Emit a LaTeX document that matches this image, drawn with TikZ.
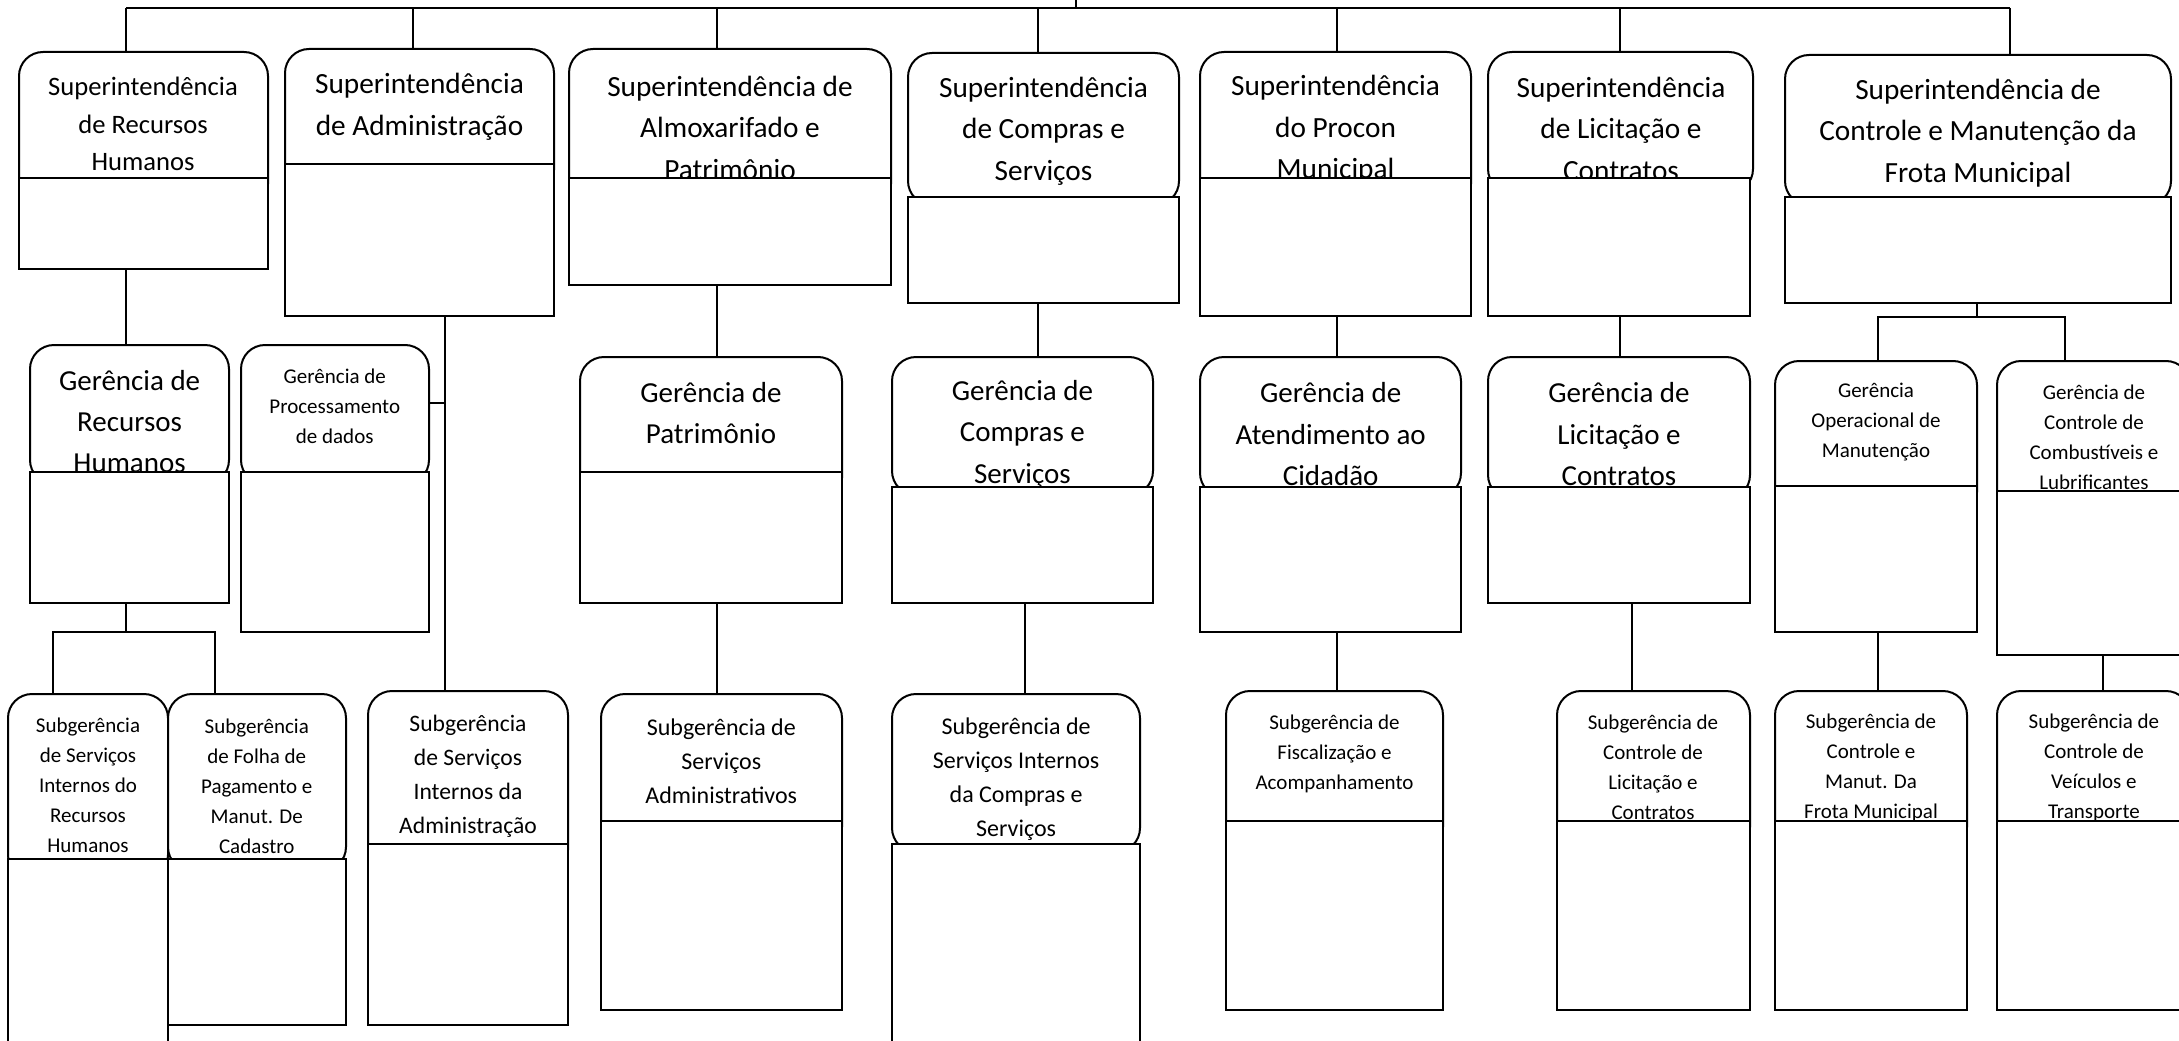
\documentclass[tikz,border=0pt]{standalone}
\usepackage{fontspec}
\setmainfont{Carlito}
\newcommand\fTop{\fontsize{29.3}{41.7}\selectfont}
\newcommand\fBone{\fontsize{26.6}{37.8}\selectfont}
\newcommand\fGer{\fontsize{29}{41.3}\selectfont}
\newcommand\fSm{\fontsize{21}{30}\selectfont}
\newcommand\fMid{\fontsize{23.6}{34.2}\selectfont}
\newcommand\fMidb{\fontsize{24}{34}\selectfont}
% name, left, top, right, bottom
\newcommand\orground[5]{\node[rbox, minimum width={(#4-#2)*1pt}, minimum height={(#5-#3)*1pt}] (#1) at ({(#2+#4)/2},{(#3+#5)/2}) {};}
\newcommand\orgrect[5]{\node[lbox, minimum width={(#4-#2)*1pt}, minimum height={(#5-#3)*1pt}] (#1) at ({(#2+#4)/2},{(#3+#5)/2}) {};}
\begin{document}
\begin{tikzpicture}[x=1pt,y=-1pt,
  rbox/.style={draw, line width=2pt, rounded corners=24pt, fill=white, inner sep=0pt, outer sep=0pt},
  lbox/.style={draw, line width=2pt, fill=white, inner sep=0pt, outer sep=0pt},
  txt/.style={align=center, inner sep=0pt, outer sep=0pt},
  conn/.style={line width=2pt}]
\useasboundingbox[fill=white] (0,0) rectangle (2179,1041);

% ---------- boxes, level 1 ----------
\orground{b1}{19}{52}{268}{208}
\node[txt, font=\fBone] (b1t) at (143,123.9) {Superintendência\\de Recursos\\Humanos};
\orgrect{b1r}{19}{178}{268}{269}

\orground{b2}{285}{49}{554}{194}
\node[txt, font=\fTop] (b2t) at (419.5,106.9) {Superintendência\\de Administração};
\orgrect{b2r}{285}{164}{554}{316}

\orground{b3}{569}{49}{891}{208}
\node[txt, font=\fTop] (b3t) at (730,127.7) {Superintendência de\\Almoxarifado e\\Patrimônio};
\orgrect{b3r}{569}{178}{891}{285}

\orground{b4}{908}{53}{1179}{205}
\node[txt, font=\fTop] (b4t) at (1043.5,131.2) {Superintendência\\de Compras e\\Serviços};
\orgrect{b4r}{908}{197}{1179}{303}

\orground{b5}{1200}{52}{1471}{208}
\node[txt, font=\fTop] (b5t) at (1335.5,129.2) {Superintendência\\do Procon\\Municipal};
\orgrect{b5r}{1200}{178}{1471}{316}

\orground{b6}{1488}{52}{1753}{193}
\node[txt, font=\fTop] (b6t) at (1621,128.7) {Superintendência\\de Licitação e\\Contratos};
\orgrect{b6r}{1488}{178}{1750}{316}

\orground{b7}{1785}{55}{2171}{205}
\node[txt, font=\fTop] (b7t) at (1978,133) {Superintendência de\\Controle e Manutenção da\\Frota Municipal};
\orgrect{b7r}{1785}{197}{2171}{303}

% ---------- boxes, level 2 ----------
\orground{g1}{30}{345}{229}{484}
\node[txt, font=\fGer] (g1t) at (129.6,421.7) {Gerência de\\Recursos\\Humanos};
\orgrect{g1r}{30}{472}{229}{603}

\orground{g2}{241}{345}{429}{484}
\node[txt, font=\fSm] (g2t) at (334.75,406) {Gerência de\\Processamento\\de dados};
\orgrect{g2r}{241}{472}{429}{632}

\orground{g3}{580}{357}{842}{502}
\node[txt, font=\fGer] (g3t) at (711,413.3) {Gerência de\\Patrimônio};
\orgrect{g3r}{580}{472}{842}{603}

\orground{g4}{892}{357}{1153}{495}
\node[txt, font=\fGer] (g4t) at (1022.4,434.2) {Gerência de\\Compras e\\Serviços};
\orgrect{g4r}{892}{487}{1153}{603}

\orground{g5}{1200}{357}{1461}{497}
\node[txt, font=\fGer] (g5t) at (1330.7,434.2) {Gerência de\\Atendimento ao\\Cidadão};
\orgrect{g5r}{1200}{487}{1461}{632}

\orground{g6}{1488}{357}{1750}{499}
\node[txt, font=\fGer] (g6t) at (1619,434.2) {Gerência de\\Licitação e\\Contratos};
\orgrect{g6r}{1488}{487}{1750}{603}

\orground{g7}{1775}{361}{1977}{516}
\node[txt, font=\fSm] (g7t) at (1876,421.7) {Gerência\\Operacional de\\Manutenção};
\orgrect{g7r}{1775}{486}{1977}{632}

\orground{g8}{1997}{361}{2190}{521}
\node[txt, font=\fSm] (g8t) at (2093.9,437.7) {Gerência de\\Controle de\\Combustíveis e\\Lubrificantes};
\orgrect{g8r}{1997}{491}{2190}{655}

% ---------- boxes, level 3 ----------
\orground{s1}{8}{694}{168}{879}
\node[txt, font=\fSm] (s1t) at (88,785.7) {Subgerência\\de Serviços\\Internos do\\Recursos\\Humanos};
\orgrect{s1r}{8}{859}{168}{1060}

\orground{s2}{168}{694}{346}{871}
\node[txt, font=\fSm] (s2t) at (256.75,786) {Subgerência\\de Folha de\\Pagamento e\\Manut. De\\Cadastro};
\orgrect{s2r}{168}{859}{346}{1025}

\orground{s3}{368}{691}{568}{874}
\node[txt, font=\fMid] (s3t) at (468,776.2) {Subgerência\\de Serviços\\Internos da\\Administração};
\orgrect{s3r}{368}{844}{568}{1025}

\orground{s4}{601}{694}{842}{851}
\node[txt, font=\fMidb] (s4t) at (721.3,761.7) {Subgerência de\\Serviços\\Administrativos};
\orgrect{s4r}{601}{821}{842}{1010}

\orground{s5}{892}{694}{1140}{852}
\node[txt, font=\fMidb] (s5t) at (1016.1,779.5) {Subgerência de\\Serviços Internos\\da Compras e\\Serviços};
\orgrect{s5r}{892}{844}{1140}{1060}

\orground{s6}{1226}{691}{1443}{851}
\node[txt, font=\fSm] (s6t) at (1334.5,753.6) {Subgerência de\\Fiscalização e\\Acompanhamento};
\orgrect{s6r}{1226}{821}{1443}{1010}

\orground{s7}{1557}{691}{1750}{851}
\node[txt, font=\fSm] (s7t) at (1653,767.5) {Subgerência de\\Controle de\\Licitação e\\Contratos};
\orgrect{s7r}{1557}{821}{1750}{1010}

\orground{s8}{1775}{691}{1967}{851}
\node[txt, font=\fSm] (s8t) at (1871,767.5) {Subgerência de\\Controle e\\Manut. Da\\Frota Municipal};
\orgrect{s8r}{1775}{821}{1967}{1010}

\orground{s9}{1997}{691}{2190}{851}
\node[txt, font=\fSm] (s9t) at (2093.9,767.5) {Subgerência de\\Controle de\\Veículos e\\Transporte};
\orgrect{s9r}{1997}{821}{2190}{1010}

% ---------- connectors ----------
\coordinate (top) at (1076,0);
\coordinate (busL) at (126,8);
\coordinate (busR) at (2010,8);
\coordinate (x2) at (413,8);
\coordinate (x3) at (717,8);
\coordinate (x4) at (1038,8);
\coordinate (x5) at (1337,8);
\coordinate (x6) at (1620,8);
\coordinate (xadm) at (445,403);
\coordinate (xcp) at (1025,0);
\coordinate (xlc) at (1632,0);
\coordinate (xfr) at (1977,317);
\coordinate (xfl) at (1878,317);
\coordinate (xfc) at (2065,317);
\coordinate (xrh) at (126,632);
\coordinate (xrl) at (53,632);
\coordinate (xrr) at (215,632);
\coordinate (xcb) at (2103,0);

\draw[conn] (busL) -- (busR);
\draw[conn] (top) -- (top |- busL);
\draw[conn] (busL) -- (busL |- b1.north);
\draw[conn] (x2) -- (x2 |- b2.north);
\draw[conn] (x3) -- (x3 |- b3.north);
\draw[conn] (x4) -- (x4 |- b4.north);
\draw[conn] (x5) -- (x5 |- b5.north);
\draw[conn] (x6) -- (x6 |- b6.north);
\draw[conn] (busR) -- (busR |- b7.north);

\draw[conn] (b1r.south -| busL) -- (g1.north -| busL);
\draw[conn] (b2r.south -| xadm) -- (s3.north -| xadm);
\draw[conn] (xadm) -- (xadm -| g2.east);
\draw[conn] (b3r.south -| x3) -- (g3.north -| x3);
\draw[conn] (b4r.south -| x4) -- (g4.north -| x4);
\draw[conn] (b5r.south -| x5) -- (g5.north -| x5);
\draw[conn] (b6r.south -| x6) -- (g6.north -| x6);
\draw[conn] (b7r.south -| xfr) -- (xfr);
\draw[conn] (g7.north -| xfl) -- (xfl) -- (xfc) -- (g8.north -| xfc);

\draw[conn] (g1r.south -| xrh) -- (xrh);
\draw[conn] (s1.north -| xrl) -- (xrl) -- (xrr) -- (s2.north -| xrr);
\draw[conn] (g3r.south -| x3) -- (s4.north -| x3);
\draw[conn] (g4r.south -| xcp) -- (s5.north -| xcp);
\draw[conn] (g5r.south -| x5) -- (s6.north -| x5);
\draw[conn] (g6r.south -| xlc) -- (s7.north -| xlc);
\draw[conn] (g7r.south -| xfl) -- (s8.north -| xfl);
\draw[conn] (g8r.south -| xcb) -- (s9.north -| xcb);
\end{tikzpicture}
\end{document}
